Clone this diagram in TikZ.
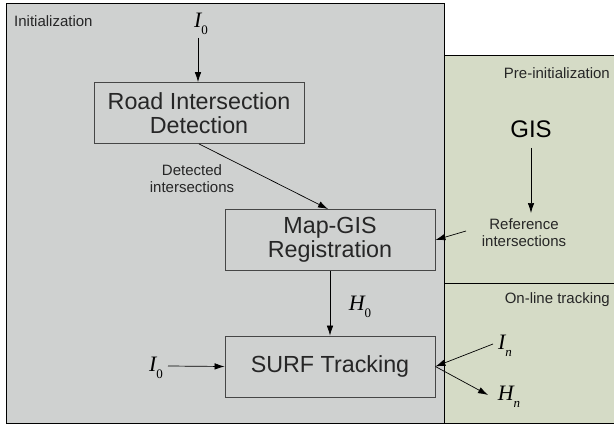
\documentclass[tikz,border=0pt]{standalone}
\usepackage{fontspec}
\setmainfont{Liberation Sans}
\newfontfamily\tms{Liberation Serif}
\usetikzlibrary{arrows.meta}
\definecolor{panelgray}{RGB}{207,209,208}
\definecolor{panelgreen}{RGB}{213,219,198}
\definecolor{boxline}{RGB}{70,70,70}
\newcommand{\mv}[2]{{\tms\fontsize{22}{22}\selectfont\itshape #1\raisebox{-0.3em}{\fontsize{13}{13}\selectfont #2}}}
\tikzset{
  blk/.style={draw=boxline, line width=0.8pt, fill=panelgray, minimum width=210pt, minimum height=61pt, inner sep=0pt, align=center, font=\fontsize{23.3}{23.5}\selectfont, text=black!85},
  lbl/.style={font=\fontsize{15}{17}\selectfont, text=black!85, align=center, inner sep=0pt},
  arr/.style={-{Latex[length=10pt,width=6.5pt]}, line width=0.7pt},
  mlbl/.style={inner sep=0pt}
}
\begin{document}
\begin{tikzpicture}[x=1pt,y=-1pt]
\useasboundingbox (0,0) rectangle (614,428);
% panels
\fill[white] (0,0) rectangle (614,428);
\fill[panelgreen] (444,56) rectangle (614,423);
\draw[line width=1pt] (444,56) -- (614,56);
\draw[line width=1pt] (444,423) -- (614,423);
\draw[line width=1pt] (444,283) -- (614,283);
\draw[fill=panelgray, line width=1pt] (6,4) rectangle (444,423);
% panel labels
\node[lbl, anchor=west] (tinit) at (14,21) {Initialization};
\node[lbl, anchor=east] (tpre) at (610,73) {Pre-initialization};
\node[lbl, anchor=east] (tonl) at (610,300) {On-line tracking};
% blocks
\node[blk] (rid) at (199,113) {Road Intersection\\Detection};
\node[blk] (reg) at (330,240) {Map-GIS\\Registration};
\node[blk] (surf) at (330,366.5) {SURF Tracking};
% inputs/outputs
\node[mlbl] (i0top) at (201,24) {\mv{I}{\upshape 0}};
\node[mlbl] (gis) at (531,129) {\fontsize{24}{24}\selectfont GIS};
\node[lbl] (refi) at (524,233) {Reference\\intersections};
\node[lbl] (deti) at (192,179) {Detected\\intersections};
\node[mlbl] (h0) at (360,307) {\mv{H}{\upshape 0}};
\node[mlbl] (i0l) at (156,368) {\mv{I}{\upshape 0}};
\node[mlbl] (in) at (505,346) {\mv{I}{n}};
\node[mlbl] (hn) at (509,397) {\mv{H}{n}};
\coordinate (refe) at (466,231);
\coordinate (ine) at (493,344);
\coordinate (hne) at (488,395);
% connectors
\draw[arr] (198,38) -- (rid.north -| 198,0);
\draw[arr] (rid.south) -- (328,209);
\draw[arr] (531,148) -- (531,213);
\draw[arr] (refe) -- (reg.east);
\draw[arr] (reg.south) -- (surf.north);
\draw[arr] (168,366) -- (surf.west);
\draw[arr] (ine) -- (surf.east);
\draw[arr] (surf.east) -- (hne);
\end{tikzpicture}
\end{document}
